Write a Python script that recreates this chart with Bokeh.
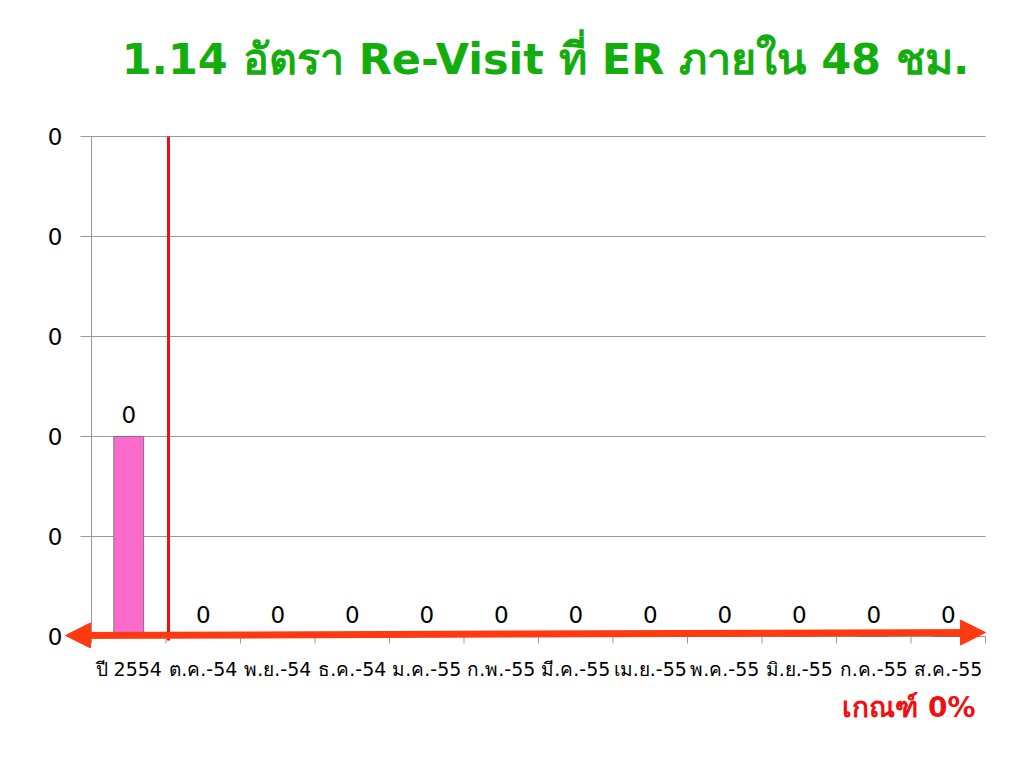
from bokeh.plotting import figure
from bokeh.models import Arrow, NormalHead, ColumnDataSource, Range1d
from bokeh.core.properties import value
from bokeh.embed import file_html
from bokeh.resources import INLINE

title_text = "1.14 อัตรา Re-Visit ที่ ER ภายใน 48 ชม."
categories = ["ปี 2554", "ต.ค.-54", "พ.ย.-54", "ธ.ค.-54", "ม.ค.-55", "ก.พ.-55",
              "มี.ค.-55", "เม.ย.-55", "พ.ค.-55", "มิ.ย.-55", "ก.ค.-55", "ส.ค.-55"]
values = [0.002, 0, 0, 0, 0, 0, 0, 0, 0, 0, 0, 0]
y_ticks = [0, 0.001, 0.002, 0.003, 0.004, 0.005]
criterion = "เกณฑ์ 0%"

# ---- layout (pixels) ----
W, H = 1008, 740
LEFT, BOTTOM = 91, 636        # where data origin sits on the canvas
PX_X = 74.5                   # pixels per category
PX_Y = 100 / (y_ticks[1] - y_ticks[0])  # pixels per data unit

def dx(px):  # pixel offset -> data x offset
    return px / PX_X

def dy(px):  # pixel offset -> data y offset
    return px / PX_Y

n = len(categories)
centers = [i + 0.5 for i in range(n)]
labels = [f"{v:.0f}" for v in values]
src = ColumnDataSource(dict(x=centers, v=values, lbl=labels))
ysrc = ColumnDataSource(dict(y=y_ticks, lbl=[f"{t:.0f}" for t in y_ticks]))
xsrc = ColumnDataSource(dict(x=centers, lbl=categories))
bsrc = ColumnDataSource(dict(x=list(range(n + 1))))

FONT = "DejaVu Sans"
RED = "#F01010"
ARROW = "#FF3A10"
GRID = "#999999"

p = figure(width=W, height=H,
           x_range=Range1d(dx(-LEFT), dx(W - LEFT)),
           y_range=Range1d(dy(-(H - BOTTOM)), dy(BOTTOM)),
           x_axis_location=None, y_axis_location=None,
           output_backend="svg", toolbar_location=None, min_border=0)
p.outline_line_color = None
p.background_fill_color = "white"
p.grid.grid_line_color = None

top = y_ticks[-1]

# horizontal gridlines with outward tick stubs
p.segment(x0=dx(-11), x1=n, y0="y", y1="y", source=ysrc, line_color=GRID, line_width=1)
# vertical axis line
p.segment(x0=[0], x1=[0], y0=[0], y1=[top], line_color=GRID, line_width=1)
# y tick labels
p.text(x=dx(-29), y="y", text="lbl", source=ysrc, text_align="right", text_baseline="middle",
       text_font_size="23px", text_font=value(FONT), text_color="black")

# x tick marks at category boundaries
p.segment(x0="x", x1="x", y0=0, y1=dy(-7), source=bsrc, line_color=GRID, line_width=1)
# x tick labels
p.text(x="x", y=0, text="lbl", source=xsrc, text_align="center", text_baseline="middle",
       y_offset=32, text_font_size="19px", text_font=value(FONT), text_color="black")

# bars + value labels
p.vbar(x="x", top="v", width=0.4, source=src, fill_color="#FA6BCB",
       line_color="#8A6A8A", line_width=1)
p.text(x="x", y="v", text="lbl", source=src, text_align="center", text_baseline="middle",
       y_offset=-22, text_font_size="23px", text_font=value(FONT), text_color="black")

# red vertical separator
p.segment(x0=[1 + dx(2.5)], x1=[1 + dx(2.5)], y0=[top], y1=[dy(-4)],
          line_color=RED, line_width=3)

# double-headed arrow along the baseline
p.add_layout(Arrow(start=NormalHead(size=25, fill_color=ARROW, line_color=ARROW),
                   end=NormalHead(size=25, fill_color=ARROW, line_color=ARROW),
                   x_start=dx(65 - LEFT), y_start=dy(1), x_end=n, y_end=dy(4),
                   line_color=ARROW, line_width=7))

# title
p.text(x=[dx(545 - LEFT)], y=[dy(BOTTOM - 58)], text=[title_text], text_align="center",
       text_baseline="middle", text_color="#14AD0E",
       text_font=value("Tahoma, DejaVu Sans"), text_font_style="bold",
       text_font_size="43px")

# criterion
p.text(x=[dx(975 - LEFT)], y=[dy(BOTTOM - 707)], text=[criterion], text_align="right",
       text_baseline="middle", text_color=RED,
       text_font=value("Tahoma, DejaVu Sans"), text_font_style="bold",
       text_font_size="28px")

open("out.html", "w").write(file_html(p, INLINE))
